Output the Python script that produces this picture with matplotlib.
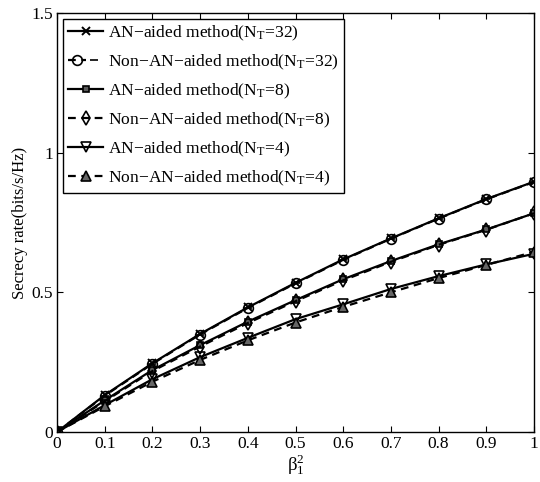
import matplotlib
matplotlib.use("Agg")
import matplotlib.pyplot as plt
from matplotlib.legend_handler import HandlerTuple

plt.rcParams['font.family'] = ['Liberation Serif', 'DejaVu Serif']
plt.rcParams['mathtext.fontset'] = 'custom'
plt.rcParams['mathtext.rm'] = 'Liberation Serif'
plt.rcParams['mathtext.it'] = 'Liberation Serif'

x = [0, 0.1, 0.2, 0.3, 0.4, 0.5, 0.6, 0.7, 0.8, 0.9, 1.0]
an32 = [0, 0.132, 0.246, 0.351, 0.446, 0.534, 0.618, 0.693, 0.765, 0.834, 0.896]
non32 = [0, 0.130, 0.244, 0.349, 0.444, 0.532, 0.616, 0.692, 0.764, 0.833, 0.895]
an8 = [0, 0.113, 0.222, 0.311, 0.395, 0.472, 0.547, 0.612, 0.672, 0.725, 0.783]
non8 = [0, 0.110, 0.218, 0.306, 0.390, 0.468, 0.543, 0.609, 0.670, 0.724, 0.783]
an4 = [0, 0.096, 0.189, 0.268, 0.337, 0.404, 0.457, 0.512, 0.558, 0.600, 0.638]
non4 = [0, 0.092, 0.180, 0.258, 0.328, 0.392, 0.448, 0.500, 0.551, 0.598, 0.645]
labels = [r"AN$-$aided method(N$_\mathrm{T}$=32)",
          r"Non$-$AN$-$aided method(N$_\mathrm{T}$=32)",
          r"AN$-$aided method(N$_\mathrm{T}$=8)",
          r"Non$-$AN$-$aided method(N$_\mathrm{T}$=8)",
          r"AN$-$aided method(N$_\mathrm{T}$=4)",
          r"Non$-$AN$-$aided method(N$_\mathrm{T}$=4)"]

fig = plt.figure(figsize=(5.4, 4.82), dpi=100)
ax = fig.add_axes([57/540, 1 - 432/482, (534 - 57)/540, (432 - 13)/482])

dash = (0, (3.5, 2.5))
lw = 1.6
h1, = ax.plot(x, an32, '-', color='k', lw=lw, marker='x', ms=6, mew=1.4)
h2, = ax.plot(x, non32, linestyle=dash, color='k', lw=lw, marker='o', ms=7, mfc='none', mew=1.2)
h2b, = ax.plot(x, non32, linestyle='none', color='k', marker='_', ms=6, mew=1.2)
h3, = ax.plot(x, an8, '-', color='k', lw=lw, marker='s', ms=4, mfc='0.35', mew=1.2)
h4, = ax.plot(x, non8, linestyle=dash, color='k', lw=lw, marker='d', ms=7, mfc='none', mew=1.2)
h5, = ax.plot(x, an4, '-', color='k', lw=lw, marker='v', ms=7, mfc='none', mew=1.2)
h6, = ax.plot(x, non4, linestyle=dash, color='k', lw=lw, marker='^', ms=7, mfc='0.4', mew=1.2)

ax.set_xlim(0, 1)
ax.set_ylim(0, 1.5)
ax.set_xticks([0, 0.1, 0.2, 0.3, 0.4, 0.5, 0.6, 0.7, 0.8, 0.9, 1])
ax.set_xticklabels(['0', '0.1', '0.2', '0.3', '0.4', '0.5', '0.6', '0.7', '0.8', '0.9', '1'])
ax.set_yticks([0, 0.5, 1, 1.5])
ax.set_yticklabels(['0', '0.5', '1', '1.5'])
ax.tick_params(direction='in', top=True, right=True, labelsize=12.5, length=4, pad=3)
for s in ax.spines.values():
    s.set_linewidth(1.0)
ax.set_xlabel(r"$\mathrm{\beta}_1^2$", fontsize=13.5, labelpad=0)
ax.set_ylabel("Secrecy rate(bits/s/Hz)", fontsize=12, labelpad=2)

leg = ax.legend([h1, (h2, h2b), h3, h4, h5, h6], labels,
                handler_map={tuple: HandlerTuple(ndivide=None, pad=0)},
                loc='upper left', bbox_to_anchor=(0.005, 0.995), fontsize=12.6,
                frameon=True, fancybox=False, edgecolor='k', framealpha=1,
                handlelength=2.0, handletextpad=0.3, borderpad=0.3,
                labelspacing=0.56, borderaxespad=0.2)
leg.get_frame().set_linewidth(1.0)

fig.savefig("out.png", dpi=100)
